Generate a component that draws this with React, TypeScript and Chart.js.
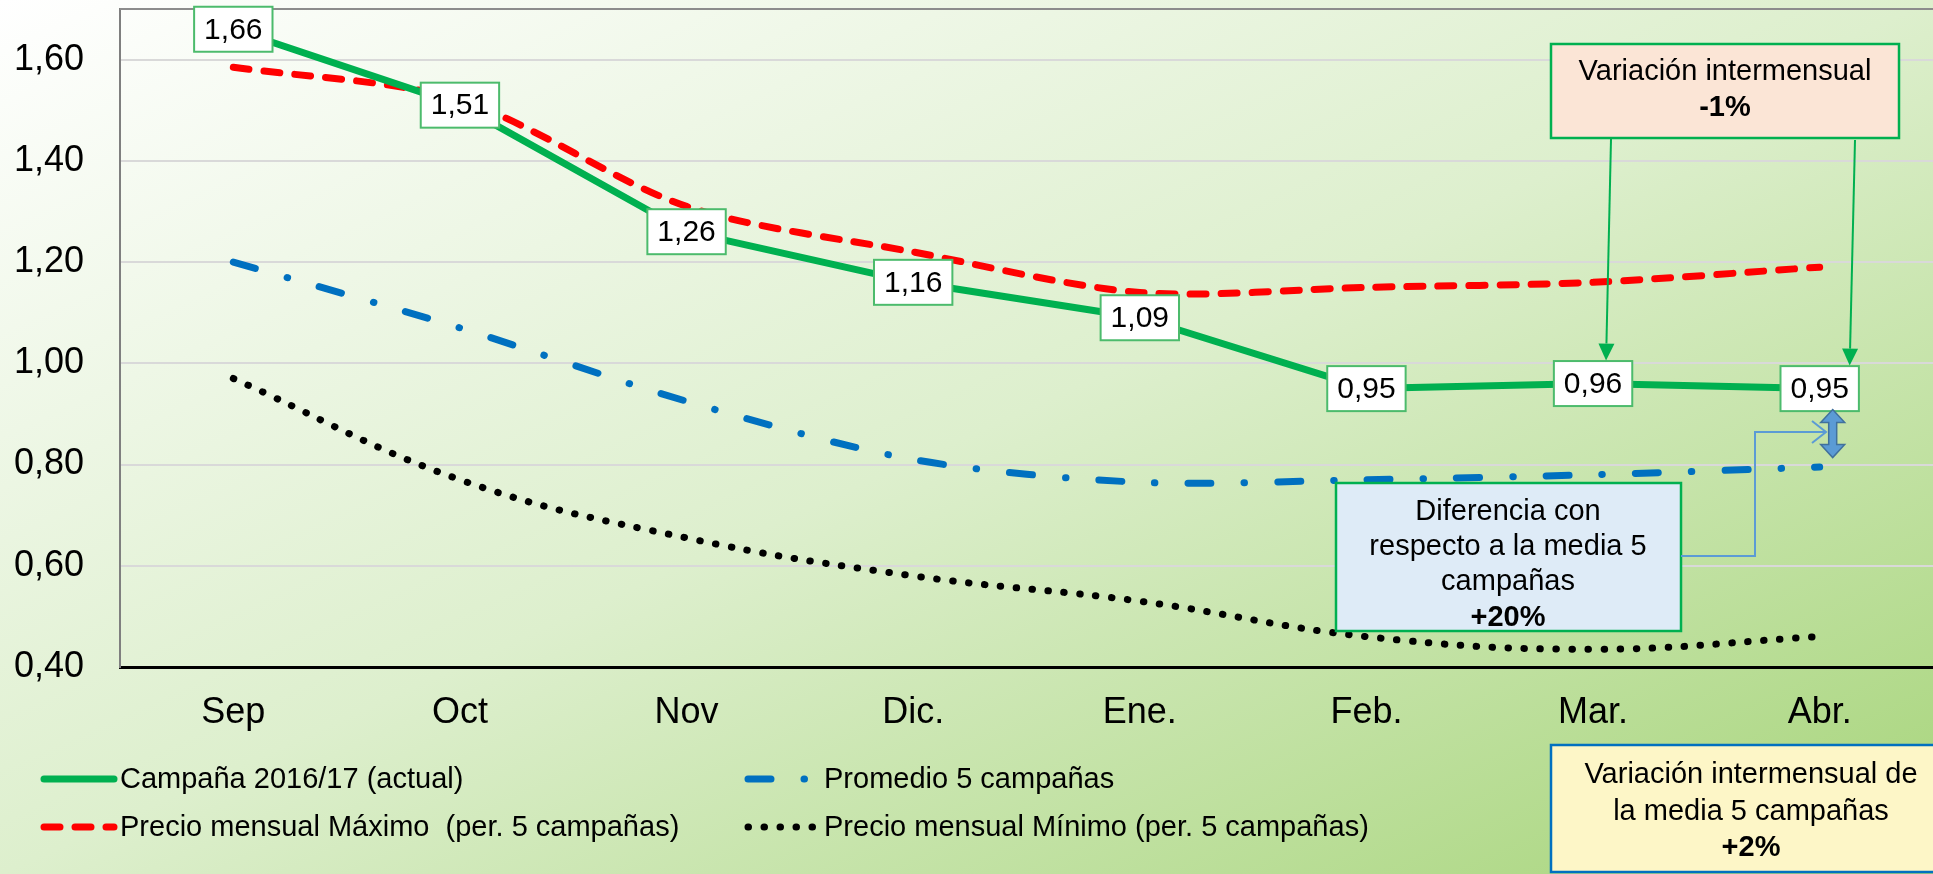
import React, { useEffect, useRef } from 'react';
import { Chart, registerables } from 'chart.js';

Chart.register(...registerables);

const W = 1933;
const H = 874;
const FONT = "'Liberation Sans', Arial, Helvetica, sans-serif";

// ---------- data ----------
const categories = ['Sep', 'Oct', 'Nov', 'Dic.', 'Ene.', 'Feb.', 'Mar.', 'Abr.'];
const campanaActual = [1.66, 1.51, 1.26, 1.16, 1.09, 0.95, 0.96, 0.95];
const promedio5 = [1.2, 1.07, 0.925, 0.81, 0.765, 0.77, 0.78, 0.795];
const maximo5 = [1.585, 1.52, 1.31, 1.22, 1.14, 1.15, 1.16, 1.19];
const minimo5 = [0.97, 0.77, 0.655, 0.58, 0.53, 0.46, 0.435, 0.46];
const yTickValues = [0.4, 0.6, 0.8, 1.0, 1.2, 1.4, 1.6];
const yMin = 0.4;
const yMax = 1.7;

const seriesNames = [
  'Campaña 2016/17 (actual)',
  'Promedio 5 campañas',
  'Precio mensual Máximo  (per. 5 campañas)',
  'Precio mensual Mínimo (per. 5 campañas)',
];

const boxVariacion = ['Variación intermensual', '-1%'];
const boxDiferencia = ['Diferencia con', 'respecto a la media 5', 'campañas', '+20%'];
const boxMedia = ['Variación intermensual de', 'la media 5 campañas', '+2%'];

const fmt = (v: number) => v.toFixed(2).replace('.', ',');

// ---------- helpers ----------
function drawTextBox(
  ctx: CanvasRenderingContext2D,
  x: number, y: number, w: number, h: number,
  fill: string, stroke: string,
  lines: string[], lineYs: number[], cx: number, boldLast: boolean
) {
  ctx.save();
  ctx.fillStyle = fill;
  ctx.fillRect(x, y, w, h);
  ctx.strokeStyle = stroke;
  ctx.lineWidth = 2.5;
  ctx.strokeRect(x, y, w, h);
  ctx.fillStyle = '#000';
  ctx.textAlign = 'center';
  ctx.textBaseline = 'middle';
  lines.forEach((t, i) => {
    const bold = boldLast && i === lines.length - 1;
    ctx.font = `${bold ? 'bold ' : ''}29px ${FONT}`;
    ctx.fillText(t, cx, lineYs[i]);
  });
  ctx.restore();
}

function drawArrow(ctx: CanvasRenderingContext2D, x1: number, y1: number, x2: number, y2: number, color: string) {
  const ang = Math.atan2(y2 - y1, x2 - x1);
  const hl = 17, hw = 8;
  ctx.save();
  ctx.strokeStyle = color;
  ctx.fillStyle = color;
  ctx.lineWidth = 2;
  ctx.beginPath();
  ctx.moveTo(x1, y1);
  ctx.lineTo(x2 - hl * Math.cos(ang), y2 - hl * Math.sin(ang));
  ctx.stroke();
  ctx.beginPath();
  ctx.moveTo(x2, y2);
  ctx.lineTo(x2 - hl * Math.cos(ang) + hw * Math.sin(ang), y2 - hl * Math.sin(ang) - hw * Math.cos(ang));
  ctx.lineTo(x2 - hl * Math.cos(ang) - hw * Math.sin(ang), y2 - hl * Math.sin(ang) + hw * Math.cos(ang));
  ctx.closePath();
  ctx.fill();
  ctx.restore();
}

// ---------- plugins ----------
const backgroundPlugin = {
  id: 'bgGradient',
  beforeDraw(chart: any) {
    const { ctx, width, height } = chart;
    ctx.save();
    ctx.scale(width, height);
    const g = ctx.createLinearGradient(0, 0, 1, 1);
    g.addColorStop(0, '#FFFFFF');
    g.addColorStop(0.5, '#DDEFCD');
    g.addColorStop(1, '#A6D479');
    ctx.fillStyle = g;
    ctx.fillRect(0, 0, 1, 1);
    ctx.restore();
  },
  beforeDatasetsDraw(chart: any) {
    const { ctx, chartArea } = chart;
    ctx.save();
    ctx.strokeStyle = '#8C8C8C';
    ctx.lineWidth = 2;
    ctx.beginPath();
    ctx.moveTo(chartArea.left, chartArea.top);
    ctx.lineTo(chartArea.right, chartArea.top);
    ctx.stroke();
    ctx.restore();
  },
};

const labelsPlugin = {
  id: 'valueLabels',
  afterDatasetsDraw(chart: any) {
    const { ctx } = chart;
    const meta = chart.getDatasetMeta(0);
    ctx.save();
    ctx.font = `30px ${FONT}`;
    ctx.textAlign = 'center';
    ctx.textBaseline = 'middle';
    meta.data.forEach((pt: any, i: number) => {
      const t = fmt(campanaActual[i]);
      const tw = ctx.measureText(t).width;
      const bw = tw + 20;
      const bh = 45;
      ctx.fillStyle = '#FFFFFF';
      ctx.fillRect(pt.x - bw / 2, pt.y - bh / 2, bw, bh);
      ctx.strokeStyle = '#4CBB6C';
      ctx.lineWidth = 2;
      ctx.strokeRect(pt.x - bw / 2, pt.y - bh / 2, bw, bh);
      ctx.fillStyle = '#000';
      ctx.fillText(t, pt.x, pt.y + 1);
    });
    ctx.restore();
  },
};

const annotationsPlugin = {
  id: 'annotations',
  afterDraw(chart: any) {
    const { ctx } = chart;
    const m0 = chart.getDatasetMeta(0).data;
    const marPt = m0[6];
    const abrPt = m0[7];

    // top box with green arrows
    drawTextBox(ctx, 1551, 44, 348, 94, '#FBE5D6', '#00B050', boxVariacion, [72, 108], 1725, true);
    drawArrow(ctx, 1611, 139, marPt.x + 13, marPt.y - 23, '#00B050');
    drawArrow(ctx, 1855, 140, abrPt.x + 30, abrPt.y - 23, '#00B050');

    // diferencia box
    drawTextBox(ctx, 1336, 483, 345, 148, '#DEEBF7', '#00B050', boxDiferencia, [512, 547, 582, 618], 1508, true);

    // connector to double arrow
    ctx.save();
    ctx.strokeStyle = '#5B9BD5';
    ctx.lineWidth = 2;
    ctx.beginPath();
    ctx.moveTo(1681, 556);
    ctx.lineTo(1755, 556);
    ctx.lineTo(1755, 432);
    ctx.lineTo(1826, 432);
    ctx.stroke();
    ctx.beginPath();
    ctx.moveTo(1812, 421);
    ctx.lineTo(1826, 432);
    ctx.lineTo(1812, 443);
    ctx.stroke();
    ctx.restore();

    // double-headed arrow
    const ax = abrPt.x + 13;
    const top = abrPt.y + 21;
    const bot = top + 48;
    const sw = 4, hw = 12, hl = 13;
    ctx.save();
    ctx.fillStyle = '#5B9BD5';
    ctx.strokeStyle = '#41719C';
    ctx.lineWidth = 1.5;
    ctx.beginPath();
    ctx.moveTo(ax, top);
    ctx.lineTo(ax + hw, top + hl);
    ctx.lineTo(ax + sw, top + hl);
    ctx.lineTo(ax + sw, bot - hl);
    ctx.lineTo(ax + hw, bot - hl);
    ctx.lineTo(ax, bot);
    ctx.lineTo(ax - hw, bot - hl);
    ctx.lineTo(ax - sw, bot - hl);
    ctx.lineTo(ax - sw, top + hl);
    ctx.lineTo(ax - hw, top + hl);
    ctx.closePath();
    ctx.fill();
    ctx.stroke();
    ctx.restore();

    // bottom-right box
    drawTextBox(ctx, 1551, 745, 400, 127, '#FDF6C7', '#0070C0', boxMedia, [775, 812, 848], 1751, true);

    // legend
    const items = [
      { ds: 0, x: 44, y: 779 },
      { ds: 1, x: 748, y: 779 },
      { ds: 2, x: 44, y: 827 },
      { ds: 3, x: 748, y: 827 },
    ];
    items.forEach((it) => {
      const ds = chart.data.datasets[it.ds];
      ctx.save();
      ctx.strokeStyle = ds.borderColor;
      ctx.lineWidth = ds.borderWidth;
      ctx.lineCap = 'round';
      ctx.setLineDash(ds.borderDash || []);
      ctx.beginPath();
      ctx.moveTo(it.x, it.y);
      ctx.lineTo(it.x + 70, it.y);
      ctx.stroke();
      ctx.setLineDash([]);
      ctx.fillStyle = '#000';
      ctx.font = `29px ${FONT}`;
      ctx.textAlign = 'left';
      ctx.textBaseline = 'middle';
      ctx.fillText(ds.label, it.x + 76, it.y + 1);
      ctx.restore();
    });
  },
};

export default function App() {
  const ref = useRef<HTMLCanvasElement>(null);
  useEffect(() => {
    if (!ref.current) return;
    const chart = new Chart(ref.current, {
      type: 'line',
      data: {
        labels: categories,
        datasets: [
          {
            label: seriesNames[0],
            data: campanaActual,
            borderColor: '#00B050',
            borderWidth: 7,
            borderCapStyle: 'round',
            borderJoinStyle: 'round',
            pointRadius: 0,
            tension: 0,
          },
          {
            label: seriesNames[1],
            data: promedio5,
            borderColor: '#0070C0',
            borderWidth: 7,
            borderDash: [23, 33, 0.5, 33],
            borderCapStyle: 'round',
            pointRadius: 0,
            tension: 0.3,
          },
          {
            label: seriesNames[2],
            data: maximo5,
            borderColor: '#FF0000',
            borderWidth: 7,
            borderDash: [16, 15],
            borderCapStyle: 'round',
            pointRadius: 0,
            tension: 0.3,
          },
          {
            label: seriesNames[3],
            data: minimo5,
            borderColor: '#000000',
            borderWidth: 7,
            borderDash: [0.5, 15.5],
            borderCapStyle: 'round',
            pointRadius: 0,
            tension: 0.4,
          },
        ],
      },
      options: {
        animation: false,
        responsive: false,
        maintainAspectRatio: false,
        layout: { padding: { top: 9, left: 0, right: 0, bottom: 0 } },
        plugins: {
          legend: { display: false },
          tooltip: { enabled: false },
        },
        scales: {
          x: {
            type: 'category',
            offset: true,
            grid: { display: false, drawTicks: false },
            border: { color: '#000000', width: 3 },
            ticks: { color: '#000', font: { family: FONT, size: 36 }, padding: 24, maxRotation: 0 },
            afterFit: (s: any) => { s.height = 207; s.paddingLeft = 0; s.paddingRight = 0; },
          },
          y: {
            min: yMin,
            max: yMax,
            afterBuildTicks: (s: any) => { s.ticks = yTickValues.map((v) => ({ value: v })); },
            grid: { color: '#D9D9D9', lineWidth: 2, drawTicks: false },
            border: { color: '#7F7F7F', width: 2 },
            ticks: {
              color: '#000',
              font: { family: FONT, size: 36 },
              padding: 36,
              callback: (v: any) => fmt(Number(v)),
            },
            afterFit: (s: any) => { s.width = 120; s.paddingTop = 0; s.paddingBottom = 0; },
          },
        },
      },
      plugins: [backgroundPlugin, labelsPlugin, annotationsPlugin],
    } as any);
    return () => chart.destroy();
  }, []);

  return (
    <div style={{ position: 'fixed', left: 0, top: 0, width: W, height: H, overflow: 'hidden' }}>
      <canvas ref={ref} width={W} height={H} style={{ display: 'block', width: W, height: H }} />
    </div>
  );
}
